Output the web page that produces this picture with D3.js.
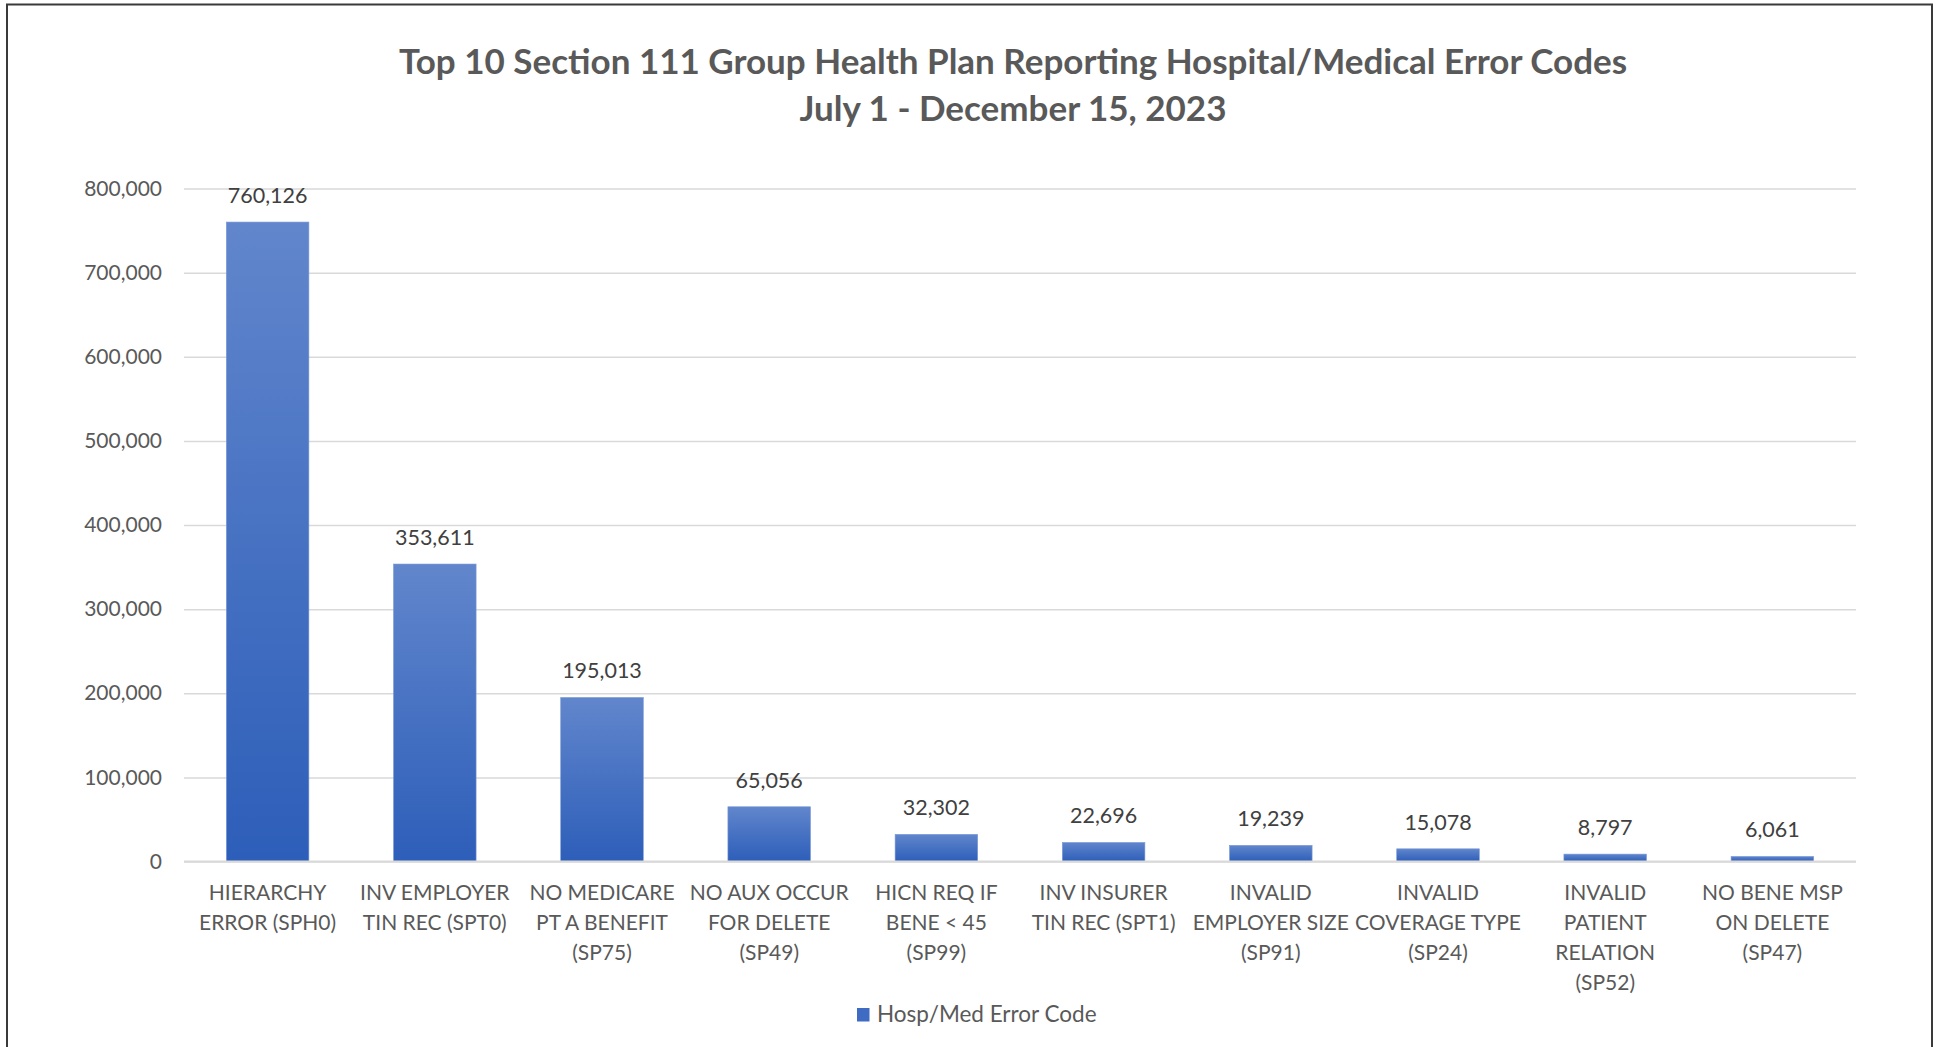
<!DOCTYPE html>
<html>
<head>
<meta charset="utf-8">
<script src="https://cdn.jsdelivr.net/npm/d3@7"></script>
<style>
  body { margin: 0; background: #fff; }
  svg { display: block; font-family: Lato, "Open Sans", sans-serif; }
</style>
</head>
<body>
<script>
const categories = [
    ["HIERARCHY", "ERROR (SPH0)"],
    ["INV EMPLOYER", "TIN REC (SPT0)"],
    ["NO MEDICARE", "PT A BENEFIT", "(SP75)"],
    ["NO AUX OCCUR", "FOR DELETE", "(SP49)"],
    ["HICN REQ IF", "BENE < 45", "(SP99)"],
    ["INV INSURER", "TIN REC (SPT1)"],
    ["INVALID", "EMPLOYER SIZE", "(SP91)"],
    ["INVALID", "COVERAGE TYPE", "(SP24)"],
    ["INVALID", "PATIENT", "RELATION", "(SP52)"],
    ["NO BENE MSP", "ON DELETE", "(SP47)"]
];
const errorCounts = [760126, 353611, 195013, 65056, 32302, 22696, 19239, 15078, 8797, 6061];
const yTicks = [0, 100000, 200000, 300000, 400000, 500000, 600000, 700000, 800000];
const seriesName = "Hosp/Med Error Code";
const titleLines = [
    "Top 10 Section 111 Group Health Plan Reporting Hospital/Medical Error Codes",
    "July 1 - December 15, 2023"
];

const width = 1940, height = 1047;
const plot = { left: 184, right: 1856, top: 188.5, bottom: 861.5 };

const svg = d3.select("body")
    .append("svg")
    .attr("width", width)
    .attr("height", height);

// gradient used by every bar (light on top, dark at the bottom)
const grad = svg.append("defs")
    .append("linearGradient")
    .attr("id", "barGrad")
    .attr("x1", 0).attr("y1", 0)
    .attr("x2", 0).attr("y2", 1);
grad.append("stop").attr("offset", "0%").attr("stop-color", "#6186cc");
grad.append("stop").attr("offset", "100%").attr("stop-color", "#2d5eb9");

// chart frame
svg.append("path")
    .attr("d", "M7,1047 V4.5 H1932 V1047")
    .attr("fill", "none")
    .attr("stroke", "#3a3a3a")
    .attr("stroke-width", 2);

const x = d3.scaleBand()
    .domain(d3.range(categories.length))
    .range([plot.left, plot.right])
    .paddingInner(0.506)
    .paddingOuter(0.253);

const y = d3.scaleLinear()
    .domain([0, 800000])
    .range([plot.bottom, plot.top]);

// title
svg.append("g")
    .selectAll("text")
    .data(titleLines)
    .join("text")
    .attr("x", 1013)
    .attr("y", (d, i) => 74 + i * 47)
    .attr("text-anchor", "middle")
    .attr("font-weight", 700)
    .attr("fill", "#595959")
    .style("font-size", "35px")
    .text(d => d);

// gridlines + y labels
const yAxis = svg.append("g")
    .attr("transform", "translate(" + plot.left + ",0)")
    .call(d3.axisLeft(y)
        .tickValues(yTicks)
        .tickSize(-(plot.right - plot.left))
        .tickPadding(22)
        .tickFormat(d3.format(",")));
yAxis.select(".domain").remove();
yAxis.selectAll(".tick line")
    .attr("stroke", "#d9d9d9")
    .attr("stroke-width", 1.5);
yAxis.selectAll(".tick text")
    .attr("fill", "#595959")
    .style("font-size", "21px")
    .style("font-family", "Lato, sans-serif");

// bars
svg.append("g")
    .selectAll("rect")
    .data(errorCounts)
    .join("rect")
    .attr("x", (d, i) => x(i))
    .attr("y", d => y(d))
    .attr("width", x.bandwidth())
    .attr("height", d => y(0) - y(d))
    .attr("fill", "url(#barGrad)")
    .attr("stroke", "#7d9bd6")
    .attr("stroke-width", 0.6);

// zero line on top of the bars' bottom edge
svg.append("line")
    .attr("x1", plot.left).attr("x2", plot.right)
    .attr("y1", y(0)).attr("y2", y(0))
    .attr("stroke", "#d9d9d9")
    .attr("stroke-width", 2);

// data labels
svg.append("g")
    .selectAll("text")
    .data(errorCounts)
    .join("text")
    .attr("x", (d, i) => x(i) + x.bandwidth() / 2)
    .attr("y", d => y(d) - 19)
    .attr("text-anchor", "middle")
    .attr("fill", "#404040")
    .style("font-size", "21.5px")
    .text(d => d3.format(",")(d));

// category labels
const xLabels = svg.append("g")
    .selectAll("text")
    .data(categories)
    .join("text")
    .attr("x", (d, i) => x(i) + x.bandwidth() / 2)
    .attr("y", 899.5)
    .attr("text-anchor", "middle")
    .attr("fill", "#595959")
    .style("font-size", "21px");
xLabels.selectAll("tspan")
    .data((d, i) => d.map(line => ({ line, i })))
    .join("tspan")
    .attr("x", d => x(d.i) + x.bandwidth() / 2)
    .attr("dy", (d, j) => j === 0 ? 0 : 30)
    .text(d => d.line);

// legend
const legend = svg.append("g").attr("transform", "translate(857,1008)");
legend.append("rect")
    .attr("width", 12.5)
    .attr("height", 13.5)
    .attr("fill", "#3f6cc2");
legend.append("text")
    .attr("x", 20)
    .attr("y", 14)
    .attr("fill", "#595959")
    .style("font-size", "22.5px")
    .text(seriesName);
</script>
</body>
</html>
